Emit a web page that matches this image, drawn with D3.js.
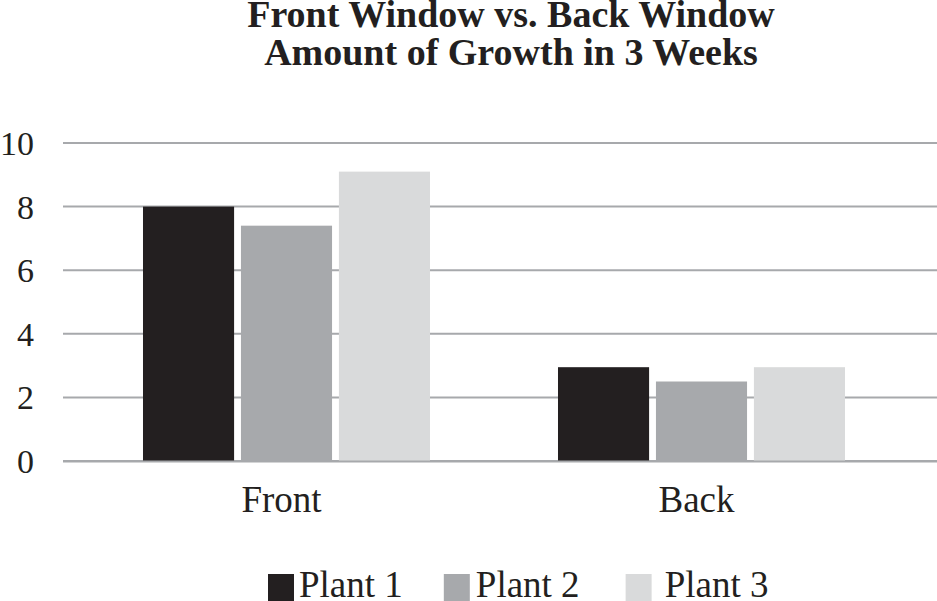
<!DOCTYPE html>
<html>
<head>
<meta charset="utf-8">
<script src="https://cdn.jsdelivr.net/npm/d3@7"></script>
<style>
  html, body { margin: 0; padding: 0; background: #fff; }
  svg { display: block; }
  text { font-family: "Liberation Serif", "Times New Roman", serif; fill: #231f20; }
</style>
</head>
<body>
<svg id="chart" width="937" height="601"></svg>
<script>
const categories = ["Front", "Back"];
const seriesNames = ["Plant 1", "Plant 2", "Plant 3"];
const plant1 = [8, 2.95];
const plant2 = [7.4, 2.5];
const plant3 = [9.1, 2.95];
const yTicks = [0, 2, 4, 6, 8, 10];
const titleLines = ["Front Window vs. Back Window", "Amount of Growth in 3 Weeks"];
const colors = ["#231f20", "#a7a9ac", "#d9dadb"];

const series = [plant1, plant2, plant3];
const svg = d3.select("#chart");

const y = d3.scaleLinear().domain([0, 10]).range([461, 143]);
const x0 = d3.scaleBand().domain(categories).range([79, 909]).paddingInner(0.3084).paddingOuter(0.1542);
const x1 = d3.scaleBand().domain(seriesNames).range([0, x0.bandwidth()]).paddingInner(0.07).paddingOuter(0);
const color = d3.scaleOrdinal().domain(seriesNames).range(colors);

// title
svg.append("g").selectAll("text").data(titleLines).join("text")
  .attr("x", 511).attr("y", (d, i) => 27 + i * 38)
  .attr("text-anchor", "middle")
  .style("font-size", "38px").style("font-weight", "bold")
  .text(d => d);

// gridlines
svg.append("g").selectAll("line").data(yTicks).join("line")
  .attr("x1", 63).attr("x2", 937)
  .attr("y1", d => y(d)).attr("y2", d => y(d))
  .attr("stroke", "#a7a9ac").attr("stroke-width", 2);

// y labels
const yAxis = d3.axisLeft(y).tickValues(yTicks).tickSize(0).tickPadding(0);
const ya = svg.append("g").attr("transform", "translate(34,0)").call(yAxis);
ya.select(".domain").remove();
ya.selectAll("text").attr("fill", "#231f20").style("fill", "#231f20")
  .style("font-size", "34px").style("font-family", '"Liberation Serif", serif')
  .attr("dy", "0.34em");

// bars
const rows = categories.map((c, ci) => ({ cat: c, vals: seriesNames.map((s, si) => ({ s, v: series[si][ci] })) }));
svg.append("g").selectAll("g").data(rows).join("g")
  .attr("transform", d => `translate(${x0(d.cat)},0)`)
  .selectAll("rect").data(d => d.vals).join("rect")
  .attr("x", d => x1(d.s))
  .attr("width", x1.bandwidth())
  .attr("y", d => y(d.v))
  .attr("height", d => y(0) - y(d.v))
  .attr("fill", d => color(d.s));

// zero line on top
svg.append("line").attr("x1", 63).attr("x2", 937)
  .attr("y1", y(0) + 0.5).attr("y2", y(0) + 0.5)
  .attr("stroke", "#a7a9ac").attr("stroke-width", 2);

// x labels
const xAxis = d3.axisBottom(x0).tickSize(0).tickPadding(0);
const xa = svg.append("g").attr("transform", "translate(-5,0)").call(xAxis);
xa.select(".domain").remove();
xa.selectAll("text").attr("y", 512).attr("dy", null)
  .style("fill", "#231f20").style("font-size", "37px").style("font-family", '"Liberation Serif", serif');

// legend
const lg = svg.append("g");
const textOffset = [31, 32, 39];
const afterGap = [41, 46, 0];
let cursor = 268;
seriesNames.forEach((s, i) => {
  lg.append("rect").attr("x", cursor).attr("y", 574).attr("width", 26).attr("height", 27).attr("fill", color(s));
  const t = lg.append("text").attr("x", cursor + textOffset[i]).attr("y", 597)
    .style("font-size", "37px").text(s);
  const w = t.node().getComputedTextLength();
  cursor = cursor + textOffset[i] + w + afterGap[i];
});
</script>
</body>
</html>
